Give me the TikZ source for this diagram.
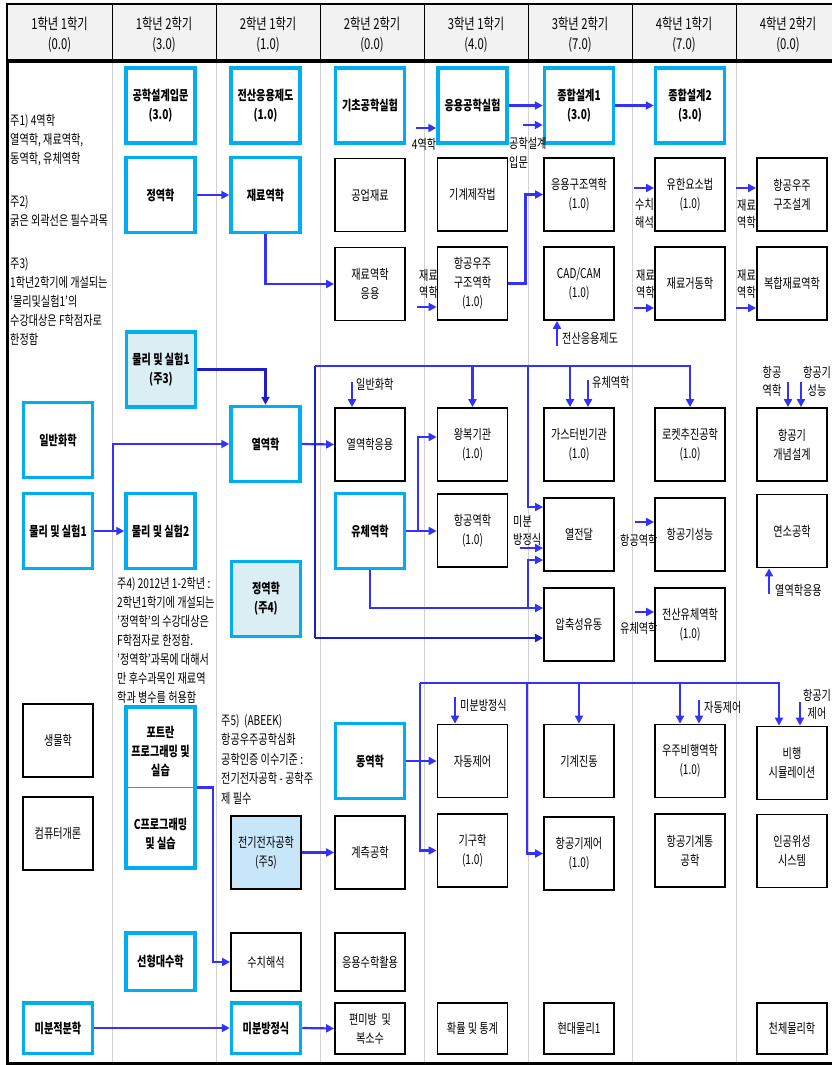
\documentclass[tikz,border=0pt]{standalone}
\usepackage{fontspec}
\setmainfont{Noto Sans CJK KR}[FakeStretch=0.75]
\usetikzlibrary{arrows.meta, calc}
\definecolor{reqBlue}{RGB}{0,174,240}
\definecolor{lineBlue}{RGB}{50,50,250}
\definecolor{lineNavy}{RGB}{30,30,200}
\definecolor{noteFill}{RGB}{219,238,244}
\definecolor{eeFill}{RGB}{200,230,250}
\definecolor{headGray}{RGB}{242,242,242}
\tikzset{
    reqBox/.style={
        rectangle,
        draw=reqBlue,
        fill=white,
        line width=3.5pt,
        inner sep=1pt,
        minimum width=69pt,
        minimum height=75pt,
        align=center,
        font=\bfseries
    },
    optBox/.style={
        rectangle,
        draw=black,
        fill=white,
        line width=1.8pt,
        inner sep=1pt,
        minimum width=70pt,
        minimum height=73pt,
        align=center
    },
    flowLine/.style={draw=lineBlue, line width=2.2pt},
    flow/.style={flowLine, -{Triangle[length=8pt, width=8pt]}},
    hint/.style={inner sep=0pt, align=left, anchor=base west},
    hintC/.style={inner sep=0pt, align=center, anchor=base}
}

\begin{document}
\fontsize{13.5}{19}\selectfont
\begin{tikzpicture}[x=1pt, y=-1pt]
    \useasboundingbox (0,0) rectangle (832,1065);

    % Header and frame
    \fill[headGray] (7,4) rectangle (840,61);
    \draw[line width=1.2pt] (840,4) -- (7,4) -- (7,61);
    \foreach \x in {112,216,...,736}
        \draw[line width=0.8pt] (\x,4) -- (\x,61);
    \foreach \x in {112,216,...,736}
        \draw[black!18, line width=0.8pt] (\x,61) -- (\x,1063);
    \draw[line width=3.5pt] (7,61) -- (840,61);
    \draw[line width=3pt] (7,61) -- (7,1063) -- (840,1063);
    \foreach \x/\term/\pts [count=\i] in {59.5/1학년 1학기/0.0, 164/1학년 2학기/3.0,
        268/2학년 1학기/1.0, 372/2학년 2학기/0.0, 476/3학년 1학기/4.0,
        580/3학년 2학기/7.0, 684/4학년 1학기/7.0, 788/4학년 2학기/0.0}
        \node[align=center, font=\fontsize{15}{20}\selectfont] (head\i) at (\x,35) {\term\\(\pts)};

    % Notes (anchored at the last line)
    \node[hint] (note1) at (10,163) {주1) 4역학\\열역학, 재료역학,\\동역학, 유체역학};
    \node[hint] (note2) at (10,225) {주2)\\굵은 외곽선은 필수과목};
    \node[hint] (note3) at (10,344) {주3)\\1학년2학기에 개설되는\\'물리및실험1'의\\수강대상은 F학점자로\\한정함};
    \node[hint] (note4) at (117,702) {주4) 2012년 1-2학년 :\\2학년1학기에 개설되는\\'정역학'의 수강대상은\\F학점자로 한정함.\\'정역학'과목에 대해서\\만 후수과목인 재료역\\학과 병수를 허용함};
    \node[hint, font=\fontsize{13.5}{19.5}\selectfont] (note5) at (221,803) {주5)\ \ (ABEEK)\\항공우주공학심화\\공학인증 이수기준 :\\전기전자공학 - 공학주\\제 필수};

    % Column 1-1
    \node[reqBox] (ilh) at (58,440) {일반화학};
    \node[reqBox] (pl1) at (58,531) {물리 및 실험1};
    \node[optBox] (bio) at (58,740.5) {생물학};
    \node[optBox] (com) at (58,833.5) {컴퓨터개론};
    \node[reqBox, minimum height=50.5pt] (mjb) at (58,1028) {미분적분학};

    % Column 1-2
    \node[reqBox] (gsi) at (160.5,105.5) {공학설계입문\\(3.0)};
    \node[reqBox] (jy1) at (160.5,195) {정역학};
    \node[reqBox, fill=noteFill] (pl3) at (161,369.5) {물리 및 실험1\\(주3)};
    \node[reqBox] (pl2) at (160.5,531) {물리 및 실험2};
    \node[reqBox, minimum height=161pt] (ftc) at (160.5,787.5) {};
    \draw[gray, line width=1.5pt, shorten <=3.5pt, shorten >=3.5pt] (ftc.west) -- (ftc.east);
    \node[font=\bfseries, align=center] (ftTxt) at (160.5,751) {포트란\\프로그래밍 및\\실습};
    \node[font=\bfseries, align=center] (cTxt) at (160.5,834) {C프로그래밍\\및 실습};
    \node[reqBox, minimum height=57.5pt] (sdh) at (160.5,961.5) {선형대수학};

    % Column 2-1
    \node[reqBox] (jsj) at (265.5,105.5) {전산응용제도\\(1.0)};
    \node[reqBox] (jr) at (265.5,195) {재료역학};
    \node[reqBox] (yr) at (265.5,444) {열역학};
    \node[reqBox, fill=noteFill] (jy4) at (266,599) {정역학\\(주4)};
    \node[optBox, fill=eeFill] (eee) at (266,852.5) {전기전자공학\\(주5)};
    \node[optBox, minimum height=58pt] (sch) at (266,962) {수치해석};
    \node[reqBox, minimum height=50.5pt] (mbj) at (266,1028) {미분방정식};

    % Column 2-2
    \node[reqBox] (gch0) at (370,105.5) {기초공학실험};
    \node[optBox] (gum) at (370,195) {공업재료};
    \node[optBox] (jra) at (370,284) {재료역학\\응용};
    \node[optBox] (yra) at (370,444.5) {열역학응용};
    \node[reqBox] (ych) at (370,531) {유체역학};
    \node[reqBox] (dyh) at (370,761) {동역학};
    \node[optBox] (gch) at (370,852.5) {계측공학};
    \node[optBox, minimum height=58pt] (ush) at (370,962) {응용수학활용};
    \node[optBox, minimum height=51.5pt] (pmb) at (370,1028.5) {편미방 \ 및\\복소수};

    % Column 3-1
    \node[reqBox] (ygs) at (472.5,105.5) {응용공학실험};
    \node[optBox] (gjj) at (472.5,194.5) {기계제작법};
    \node[optBox] (agg) at (472.5,283.5) {항공우주\\구조역학\\(1.0)};
    \node[optBox] (wbk) at (472.5,444.5) {왕복기관\\(1.0)};
    \node[optBox] (hgy) at (472.5,530.5) {항공역학\\(1.0)};
    \node[optBox] (jdj) at (472.5,761) {자동제어};
    \node[optBox] (ggh) at (472.5,850.5) {기구학\\(1.0)};
    \node[optBox, minimum height=51.5pt] (hrt) at (472.5,1028.5) {확률 및 통계};

    % Column 3-2
    \node[reqBox] (jh1) at (579,105.5) {종합설계1\\(3.0)};
    \node[optBox] (egg) at (579,194.5) {응용구조역학\\(1.0)};
    \node[optBox] (cad) at (579,283.5) {CAD/CAM\\(1.0)};
    \node[optBox] (gtb) at (579,444.5) {가스터빈기관\\(1.0)};
    \node[optBox] (yjd) at (579,534.5) {열전달};
    \node[optBox] (ajy) at (579,624.5) {압축성유동};
    \node[optBox] (ggj) at (579,761) {기계진동};
    \node[optBox] (hgj) at (579,853.5) {항공기제어\\(1.0)};
    \node[optBox, minimum height=51.5pt] (hdm) at (579,1028.5) {현대물리1};

    % Column 4-1
    \node[reqBox] (jh2) at (690,105.5) {종합설계2\\(3.0)};
    \node[optBox] (yhy) at (690,194.5) {유한요소법\\(1.0)};
    \node[optBox] (jgd) at (690,283.5) {재료거동학};
    \node[optBox] (rkt) at (690,444.5) {로켓추진공학\\(1.0)};
    \node[optBox] (hgs) at (690,534.5) {항공기성능};
    \node[optBox] (jyc) at (690,624.5) {전산유체역학\\(1.0)};
    \node[optBox] (uby) at (690,761) {우주비행역학\\(1.0)};
    \node[optBox] (hgt) at (690,850.5) {항공기계통\\공학};

    % Column 4-2
    \node[optBox] (hgsg) at (792,194.5) {항공우주\\구조설계};
    \node[optBox] (bhj) at (792,283.5) {복합재료역학};
    \node[optBox] (hgg) at (792,444.5) {항공기\\개념설계};
    \node[optBox] (yso) at (792,531) {연소공학};
    \node[optBox] (sim) at (792,763) {비행\\시뮬레이션};
    \node[optBox] (isc) at (792,851) {인공위성\\시스템};
    \node[optBox, minimum height=51.5pt] (cch) at (792,1028.5) {천체물리학};

    % Coordinates for buses and short inputs
    \coordinate (busT) at (315,366);
    \coordinate (busB) at (315,638);
    \coordinate (busM) at (528,366);
    \coordinate (busG) at (420,683);
    \coordinate (busG2) at (527,683);
    \coordinate (plJ) at (113,531);
    \coordinate (ychJ) at (418,531);
    \coordinate (ajyJ) at (528,608);
    \coordinate (wbkIn) at ($(wbk.west)+(0,-7.5)$);
    \coordinate (ajyIn) at ($(ajy.west)+(0,-16.5)$);
    \coordinate (yjdIn1) at ($(yjd.west)+(0,-27.5)$);
    \coordinate (yjdIn2) at ($(yjd.west)+(0,25.5)$);
    \coordinate (gtbIn) at ($(gtb.north)+(-9,0)$);
    \coordinate (ubyIn) at ($(uby.north)+(-10,0)$);
    \coordinate (simIn) at ($(sim.north)+(-13,0)$);

    % Main connectors
    \draw[flow] (ygs.east) -- (jh1.west);
    \draw[flow] (jh1.east) -- (jh2.west);
    \draw[flow] (jy1.east) -- (jr.west);
    \draw[flow] (jr.south) |- (jra.west);
    \draw[flow] (agg.east) -- ++(17,0) |- (egg.west);
    \draw[flow, draw=lineNavy] (pl3.east) -| (yr.north);
    \draw[flow] (pl1.east) -- (pl2.west);
    \draw[flow] (plJ) |- (yr.west);
    \draw[flow] (yr.east) -- (yra.west);
    \draw[flowLine, draw=lineNavy] (busT) -- (busB);
    \draw[flow] (busT) -| (rkt.north);
    \draw[flow] (wbk.north |- busT) -- (wbk.north);
    \draw[flow] (gtbIn |- busT) -- (gtbIn);
    \draw[flow] (busM) |- (yjdIn1);
    \draw[flow, draw=lineNavy] (busB) -- (busB -| ajy.west);
    \draw[flow] (ych.east) -- (ych.east -| hgy.west);
    \draw[flow] (ychJ) |- (wbkIn);
    \draw[flow] (ych.south) |- (ajyIn);
    \draw[flow] (ajyJ) |- (yjdIn2);
    \draw[flow] (ftc.east) -- ++(16,0) |- (sch.west);
    \draw[flow] (eee.east) -- (gch.west);
    \draw[flow] (mjb.east) -- (mbj.west);
    \draw[flow] (mbj.east) -- (pmb.west);
    \draw[flow] (dyh.east) -- (jdj.west);
    \draw[flow] (busG) |- (ggh.west);
    \draw[flow] (busG) -| (simIn);
    \draw[flow] (busG2) |- (hgj.west);
    \draw[flow] (ggj.north |- busG) -- (ggj.north);
    \draw[flow] (ubyIn |- busG) -- (ubyIn);

    % Short inputs with labels
    \coordinate (yhIn) at (416,128);
    \draw[flow] (yhIn) -- (yhIn -| ygs.west);
    \node[inner sep=0pt] (lbYh) at (424,144) {4역학};
    \coordinate (gsIn) at (523,125);
    \draw[flow] (gsIn) -- (gsIn -| jh1.west);
    \node[hint] (lbGs) at (509,167) {공학설계\\입문};
    \coordinate (jrIn1) at (417,307);
    \draw[flow] (jrIn1) -- (jrIn1 -| agg.west);
    \node[hint, font=\fontsize{13.5}{17}\selectfont] (lbJr1) at (419,297) {재료\\역학};
    \coordinate (jsIn) at (557,346);
    \draw[flow] (jsIn) -- (jsIn |- cad.south);
    \node[hint] (lbJs) at (562,343) {전산응용제도};
    \coordinate (scIn) at (634,188);
    \draw[flow] (scIn) -- (scIn -| yhy.west);
    \node[hint, font=\fontsize{13.5}{18}\selectfont] (lbSc) at (635,227) {수치\\해석};
    \coordinate (jrIn2) at (634,308);
    \draw[flow] (jrIn2) -- (jrIn2 -| jgd.west);
    \node[hint, font=\fontsize{13.5}{17}\selectfont] (lbJr2) at (636,297) {재료\\역학};
    \coordinate (jrIn3) at (736,188);
    \draw[flow] (jrIn3) -- (jrIn3 -| hgsg.west);
    \node[hint, font=\fontsize{13.5}{17}\selectfont] (lbJr3) at (737,227) {재료\\역학};
    \coordinate (jrIn4) at (736,308);
    \draw[flow] (jrIn4) -- (jrIn4 -| bhj.west);
    \node[hint, font=\fontsize{13.5}{17}\selectfont] (lbJr4) at (737,297) {재료\\역학};
    \coordinate (ilIn) at (352,382);
    \draw[flow] (ilIn) -- (ilIn |- yra.north);
    \node[hint] (lbIl) at (356,389) {일반화학};
    \coordinate (ycIn) at (588,380);
    \draw[flow] (ycIn) -- (ycIn |- gtb.north);
    \node[hint] (lbYc) at (592,387) {유체역학};
    \coordinate (hyIn2) at (788,382);
    \draw[flow] (hyIn2) -- (hyIn2 |- hgg.north);
    \node[hintC, font=\fontsize{13.5}{18}\selectfont] (lbHy2) at (772,395) {항공\\역학};
    \coordinate (hsIn) at (801,382);
    \draw[flow] (hsIn) -- (hsIn |- hgg.north);
    \node[hintC, font=\fontsize{13.5}{18}\selectfont] (lbHs) at (817,395) {항공기\\성능};
    \coordinate (mbIn) at (520,548);
    \draw[flow] (mbIn) -- (mbIn -| yjd.west);
    \node[hint, font=\fontsize{13.5}{18}\selectfont] (lbMb) at (513,544) {미분\\방정식};
    \coordinate (hyIn) at (635,522);
    \draw[flow] (hyIn) -- (hyIn -| hgs.west);
    \node[hint] (lbHy) at (620,545) {항공역학};
    \coordinate (ycIn2) at (635,612);
    \draw[flow] (ycIn2) -- (ycIn2 -| jyc.west);
    \node[hint] (lbYc2) at (620,633) {유체역학};
    \coordinate (yaIn) at (769,594);
    \draw[flow] (yaIn) -- (yaIn |- yso.south);
    \node[hint] (lbYa) at (775,595) {열역학응용};
    \coordinate (mbIn2) at (455,697);
    \draw[flow] (mbIn2) -- (mbIn2 |- jdj.north);
    \node[hint] (lbMb2) at (460,710) {미분방정식};
    \coordinate (jdIn) at (699,700);
    \draw[flow] (jdIn) -- (jdIn |- uby.north);
    \node[hint] (lbJd) at (704,712) {자동제어};
    \coordinate (hjIn) at (800,702);
    \draw[flow] (hjIn) -- (hjIn |- sim.north);
    \node[hintC, font=\fontsize{13.5}{18}\selectfont] (lbHj) at (817,718) {항공기\\제어};
\end{tikzpicture}
\end{document}
